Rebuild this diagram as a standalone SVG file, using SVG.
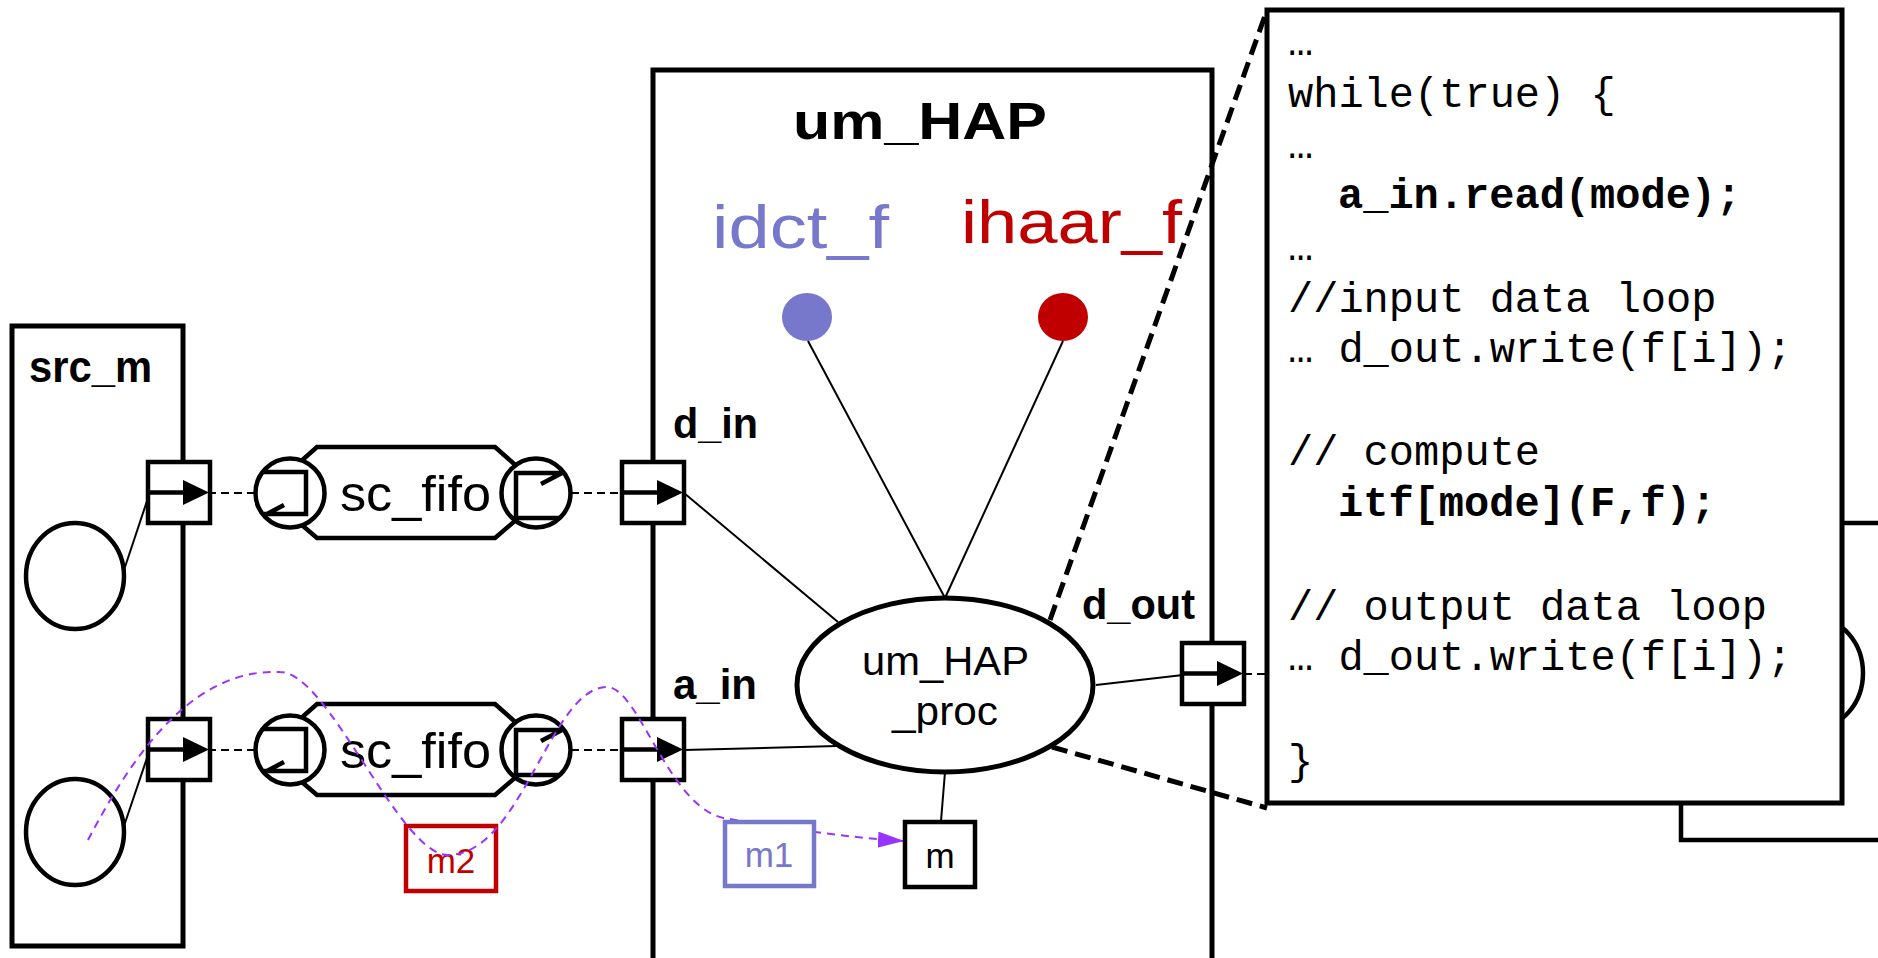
<svg xmlns="http://www.w3.org/2000/svg" xmlns:xlink="http://www.w3.org/1999/xlink" width="1878" height="958" viewBox="0 0 1878 958">
<style>
.box{fill:#fff;stroke:#000;stroke-width:5}
.thick{fill:none;stroke:#000;stroke-width:4.5}
.thin{fill:none;stroke:#000;stroke-width:2}
.dash{fill:none;stroke:#000;stroke-width:2.2;stroke-dasharray:8 5}
.zoom{fill:none;stroke:#000;stroke-width:5;stroke-dasharray:16 8}
.msg{fill:none;stroke:#9933FF;stroke-width:2;stroke-dasharray:8 6}
.lbl{font-family:"Liberation Sans",Arial,sans-serif;font-weight:bold;fill:#000}
.reg{font-family:"Liberation Sans",Arial,sans-serif;fill:#000}
.code{font-family:"Liberation Mono","Courier New",monospace;font-size:42px;fill:#000}
.codeb{font-family:"Liberation Mono","Courier New",monospace;font-size:42px;font-weight:bold;fill:#000}
</style>
<defs>
<g id="port">
<rect x="0" y="0" width="62" height="61" fill="#fff" stroke="#000" stroke-width="4.5"/>
<line x1="0" y1="30.5" x2="37" y2="30.5" stroke="#000" stroke-width="4.5"/>
<polygon points="35,18 61,30.5 35,43" fill="#000"/>
</g>
<g id="fifo">
<polygon points="27,-46 205,-46 240,-15 240,15 205,45 27,45 -8,15 -8,-15" fill="#fff" stroke="#000" stroke-width="4.5" stroke-linejoin="miter"/>
<circle cx="0" cy="0" r="34.5" fill="#fff" stroke="#000" stroke-width="4.5"/>
<path d="M-28,-21 H16 V21 H-26 M-25,22 L-6,12" fill="none" stroke="#000" stroke-width="4.5"/>
<circle cx="246" cy="0" r="34.5" fill="#fff" stroke="#000" stroke-width="4.5"/>
<path d="M270,25 H226 V-20 H272 M251,-9 L272,-20" fill="none" stroke="#000" stroke-width="4.5"/>
<text class="reg" x="50" y="18" font-size="50" textLength="151" lengthAdjust="spacingAndGlyphs">sc_fifo</text>
</g>
<marker id="parrow" markerUnits="userSpaceOnUse" markerWidth="26" markerHeight="16" viewBox="0 0 26 16" refX="25" refY="8" orient="auto">
<polygon points="0,0 26,8 0,16" fill="#9933FF"/>
</marker>
</defs>
<rect width="1878" height="958" fill="#fff"/>

<g id="hidden_module">
<rect x="1681" y="523" width="230" height="317" class="thick" fill="#fff"/>
<ellipse cx="1815" cy="673" rx="48" ry="55" class="thick"/>
</g>

<g id="src_m">
<rect x="12" y="326" width="171" height="620" class="box"/>
<text class="lbl" x="29" y="382" font-size="45" textLength="123" lengthAdjust="spacingAndGlyphs">src_m</text>
<ellipse cx="75" cy="576" rx="49" ry="53" class="thick"/>
<ellipse cx="75" cy="832" rx="49" ry="53" class="thick"/>
</g>

<g id="um_HAP">
<rect x="653" y="70" width="559" height="950" class="box"/>
<text class="lbl" x="793" y="139" font-size="52" textLength="254" lengthAdjust="spacingAndGlyphs">um_HAP</text>
<text class="lbl" x="673" y="438" font-size="42" textLength="85" lengthAdjust="spacingAndGlyphs">d_in</text>
<text class="lbl" x="673" y="699" font-size="42" textLength="84" lengthAdjust="spacingAndGlyphs">a_in</text>
<text class="lbl" x="1082" y="619" font-size="42" textLength="113" lengthAdjust="spacingAndGlyphs">d_out</text>
</g>

<g id="idct_f">
<text class="reg" x="712" y="248" font-size="62" style="fill:#7777CC" textLength="177" lengthAdjust="spacingAndGlyphs">idct_f</text>
<ellipse cx="807" cy="317" rx="25" ry="24" fill="#7777CC"/>
</g>
<g id="ihaar_f">
<text class="reg" x="961" y="243" font-size="62" style="fill:#C00000" textLength="221" lengthAdjust="spacingAndGlyphs">ihaar_f</text>
<ellipse cx="1063" cy="317" rx="25" ry="24" fill="#C00000"/>
</g>

<g id="connectors">
<line x1="124" y1="570" x2="148" y2="498" class="thin"/>
<line x1="124" y1="826" x2="148" y2="755" class="thin"/>
<line x1="208" y1="493" x2="256" y2="493" class="dash"/>
<line x1="208" y1="750" x2="256" y2="750" class="dash"/>
<line x1="571" y1="493" x2="622" y2="493" class="dash"/>
<line x1="571" y1="750" x2="622" y2="750" class="dash"/>
<line x1="684" y1="493" x2="838" y2="622" class="thin"/>
<line x1="684" y1="750" x2="837" y2="746" class="thin"/>
<line x1="808" y1="341" x2="945" y2="598" class="thin"/>
<line x1="1063" y1="341" x2="945" y2="598" class="thin"/>
<line x1="945" y1="772" x2="941" y2="821" class="thin"/>
<line x1="1096" y1="685" x2="1183" y2="675" class="thin"/>
<line x1="1244" y1="674" x2="1267" y2="674" class="dash"/>
<line x1="1050" y1="620" x2="1267" y2="10" class="zoom"/>
<line x1="1052" y1="747" x2="1267" y2="808" class="zoom"/>
</g>

<g id="ports">
<use xlink:href="#port" href="#port" x="148" y="462"/>
<use xlink:href="#port" href="#port" x="148" y="719"/>
<use xlink:href="#port" href="#port" x="622" y="462"/>
<use xlink:href="#port" href="#port" x="622" y="719"/>
<use xlink:href="#port" href="#port" x="1182" y="643"/>
</g>

<g id="fifo_top" transform="translate(290,493)">
<use xlink:href="#fifo" href="#fifo"/>
</g>
<g id="fifo_bottom" transform="translate(290,750)">
<use xlink:href="#fifo" href="#fifo"/>
</g>

<g id="um_HAP_proc">
<ellipse cx="945" cy="685" rx="148" ry="87" fill="#fff" stroke="#000" stroke-width="5"/>
<text class="reg" x="862" y="675" font-size="41" textLength="167" lengthAdjust="spacingAndGlyphs">um_HAP</text>
<text class="reg" x="892" y="725" font-size="41" textLength="106" lengthAdjust="spacingAndGlyphs">_proc</text>
</g>

<g id="m2">
<rect x="406" y="826" width="90" height="65" fill="none" stroke="#C00000" stroke-width="4.5"/>
<text class="reg" x="451" y="873" font-size="35" text-anchor="middle" style="fill:#C00000">m2</text>
</g>

<g id="message_flow">
<path d="M88,840 C130,760 190,668 280,672 C329,672 399,855 448,855 C522,855 550,687 607,687 C640,687 670,815 730,819 C770,826 850,838 903,841" class="msg" marker-end="url(#parrow)"/>
</g>

<g id="m1">
<rect x="725" y="822" width="89" height="64" fill="#fff" stroke="#7777CC" stroke-width="4.5"/>
<text class="reg" x="769" y="867" font-size="35" text-anchor="middle" style="fill:#7777CC">m1</text>
</g>

<g id="m">
<rect x="905" y="822" width="70" height="65" fill="#fff" stroke="#000" stroke-width="4.5"/>
<text class="reg" x="940" y="868" font-size="35" text-anchor="middle">m</text>
</g>

<g id="code_box">
<rect x="1267" y="10" width="575" height="793" class="box"/>
<text class="code" x="1288" y="55">…</text>
<text class="code" x="1288" y="107">while(true) {</text>
<text class="code" x="1288" y="158">…</text>
<text class="codeb" x="1338" y="208">a_in.read(mode);</text>
<text class="code" x="1288" y="260">…</text>
<text class="code" x="1288" y="312">//input data loop</text>
<text class="code" x="1288" y="362">… d_out.write(f[i]);</text>
<text class="code" x="1288" y="465">// compute</text>
<text class="codeb" x="1338" y="516">itf[mode](F,f);</text>
<text class="code" x="1288" y="620">// output data loop</text>
<text class="code" x="1288" y="670">… d_out.write(f[i]);</text>
<text class="code" x="1288" y="774">}</text>
</g>
</svg>
